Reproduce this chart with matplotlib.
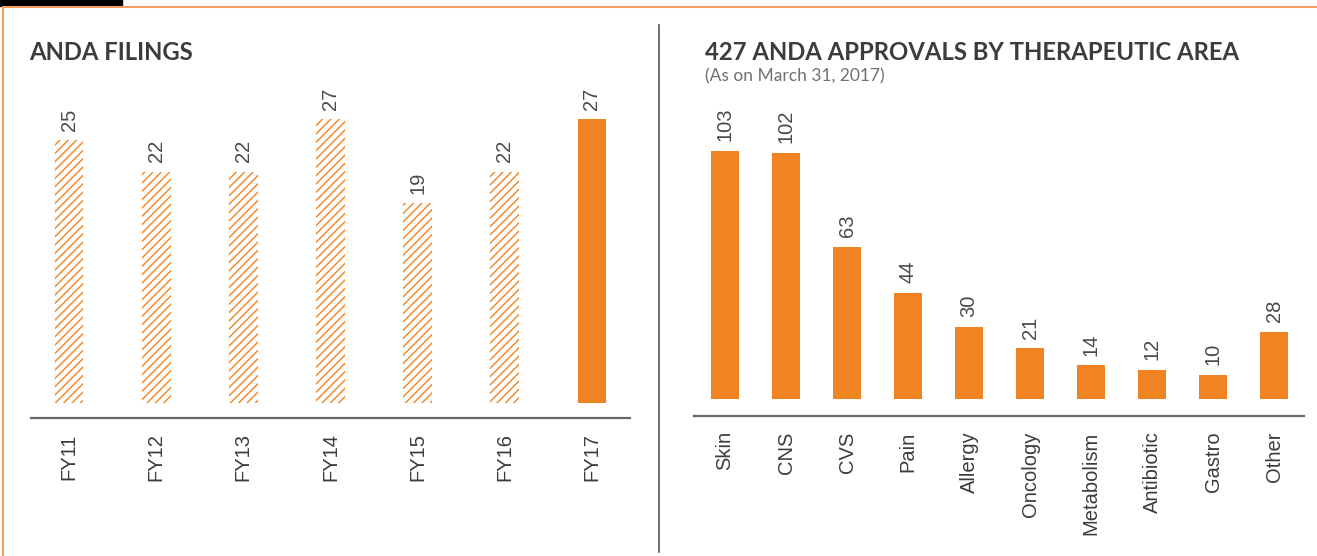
import numpy as np
import matplotlib
matplotlib.use("Agg")
import matplotlib.pyplot as plt
from matplotlib.patches import Rectangle
from matplotlib.lines import Line2D

# Data
years = ["FY11", "FY12", "FY13", "FY14", "FY15", "FY16", "FY17"]
filings = [25, 22, 22, 27, 19, 22, 27]

areas = ["Skin", "CNS", "CVS", "Pain", "Allergy", "Oncology",
         "Metabolism", "Antibiotic", "Gastro", "Other"]
approvals = [103, 102, 63, 44, 30, 21, 14, 12, 10, 28]

orange = "#F28322"
text_dark = "#3c3c3c"
text_grey = "#4a4a4a"
label_font = ["Liberation Sans", "DejaVu Sans"]
title_font = ["Lato", "DejaVu Sans"]

plt.rcParams["hatch.linewidth"] = 1.0

W, H = 1317, 556
fig = plt.figure(figsize=(W / 100, H / 100), dpi=100)


def px(x0, y0, x1, y1):
    # pixel box -> figure fraction rect
    return [x0 / W, 1 - y1 / H, (x1 - x0) / W, (y1 - y0) / H]


def style_axis(ax):
    for s in ["top", "right", "left"]:
        ax.spines[s].set_visible(False)
    ax.spines["bottom"].set_color("#666666")
    ax.spines["bottom"].set_linewidth(1.6)
    ax.set_yticks([])
    ax.tick_params(axis="x", length=0, pad=11)


# ---- left: ANDA filings
ax1 = fig.add_axes(px(31, 90, 630, 418))
x1 = np.arange(len(years))
bars = ax1.bar(x1, filings, width=0.33, color="none", edgecolor=orange,
               hatch="////", linewidth=0)
bars[-1].set_facecolor(orange)
bars[-1].set_hatch("")
ax1.set_xlim(-0.436, len(years) - 1 + 0.436)
ax1.set_ylim(-1.43, 29.8)
style_axis(ax1)
ax1.set_xticks(x1)
ax1.set_xticklabels(years, rotation=90, fontsize=14.5, color=text_dark,
                    family=label_font, va="top")
for xi, v in zip(x1, filings):
    ax1.annotate(str(v), (xi, v), xytext=(0, 7), textcoords="offset points",
                 rotation=90, ha="center", va="bottom", fontsize=14.5,
                 color=text_grey, family=label_font)

# ---- right: approvals by therapeutic area
ax2 = fig.add_axes(px(694, 90, 1304, 416))
x2 = np.arange(len(areas))
ax2.bar(x2, approvals, width=0.46, color=orange, linewidth=0)
ax2.set_xlim(-0.508, len(areas) - 1 + 0.49)
ax2.set_ylim(-7.05, 128.2)
style_axis(ax2)
ax2.set_xticks(x2)
ax2.set_xticklabels(areas, rotation=90, fontsize=14.5, color=text_dark,
                    family=label_font, va="top")
for xi, v in zip(x2, approvals):
    ax2.annotate(str(v), (xi, v), xytext=(0, 7), textcoords="offset points",
                 rotation=90, ha="center", va="bottom", fontsize=14.5,
                 color=text_grey, family=label_font)

# ---- titles
fig.text(29 / W, 1 - 52 / H, "ANDA FILINGS", fontsize=17.2, fontweight="bold",
         color=text_dark, family=title_font, va="center", ha="left")
fig.text(705 / W, 1 - 52 / H, "427 ANDA APPROVALS BY THERAPEUTIC AREA",
         fontsize=17.2, fontweight="bold", color=text_dark, family=title_font,
         va="center", ha="left")
fig.text(705 / W, 1 - 76 / H, "(As on March 31, 2017)", fontsize=12.5,
         fontweight="normal", color="#707070", family=title_font,
         va="center", ha="left")

# ---- frame decorations
fig.add_artist(Rectangle((0, 1 - 6 / H), 122 / W, 6 / H, color="black",
                         transform=fig.transFigure))
fig.add_artist(Line2D([3 / W, 1], [1 - 7 / H, 1 - 7 / H], color="#F4A060",
                      lw=1.5, transform=fig.transFigure))
fig.add_artist(Line2D([3 / W, 3 / W], [0, 1 - 7 / H], color="#F4A060",
                      lw=1.5, transform=fig.transFigure))
fig.add_artist(Line2D([659 / W, 659 / W], [1 - 552 / H, 1 - 25 / H],
                      color="#555555", lw=1.2, transform=fig.transFigure))

fig.savefig("out.png", dpi=100, facecolor="white")
